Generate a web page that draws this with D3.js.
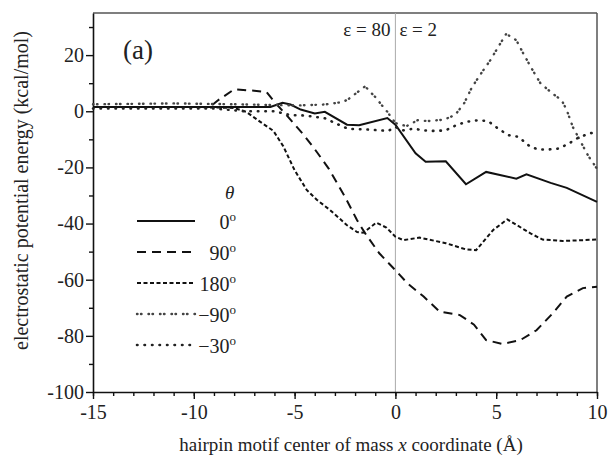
<!DOCTYPE html>
<html>
<head>
<meta charset="utf-8">
<script src="https://cdn.jsdelivr.net/npm/d3@7"></script>
<style>
  body { margin: 0; background: #fff; }
  svg text { font-family: "Liberation Serif", "Times New Roman", "DejaVu Serif", serif; }
</style>
</head>
<body>
<div id="chart"></div>
<script>
// data
const x0deg = [-15, -13, -11, -9, -7, -6.2, -5.6, -5.2, -4.7, -4.0, -3.5, -2.4, -1.8, -0.4, 0, 1.0, 1.5, 2.5, 3.5, 4.5, 6.0, 6.5, 7.7, 8.5, 10];
const y0deg = [1.5, 1.5, 1.5, 1.5, 1.5, 1.5, 3, 2.4, 0.6, -0.8, -0.2, -4.8, -5, -2.4, -4.8, -15, -18, -17.8, -26, -21.6, -24, -22.5, -25.5, -27.3, -32.3];

const x90deg = [-15, -12, -9.2, -8.8, -8, -7, -6.4, -6, -5.4, -4.6, -4, -3.3, -2.5, -1.9, -1.5, -0.8, 0, 0.6, 1.4, 2.2, 3.2, 3.9, 4.5, 5.3, 6.2, 7, 7.8, 8.5, 9.3, 10];
const y90deg = [1.5, 1.5, 1.5, 3.9, 7.8, 7.3, 6.9, 3.3, -1.4, -8, -13.5, -20.5, -30.5, -38.8, -43.5, -50.6, -56.6, -61.3, -66, -71.4, -72.6, -76, -81.5, -82.9, -81.5, -78, -72, -66, -63, -62.5];

const x180deg = [-15, -10, -8, -7.4, -6.7, -6.05, -5.56, -5.0, -4.4, -3.9, -3.24, -2.4, -1.9, -1.6, -0.95, -0.45, 0, 0.4, 1.2, 2.5, 3.5, 4.0, 4.85, 5.55, 6.7, 7.3, 8.3, 10];
const y180deg = [1.5, 1.5, 1.2, -0.2, -3.8, -7, -12.5, -21, -28, -31.5, -35.2, -40.6, -43, -43.3, -39.7, -41.4, -44.7, -45.9, -45, -47, -49.2, -49.5, -42.3, -38.5, -43.5, -45.7, -46.2, -45.7];

const xm90deg = [-15, -11, -8, -6, -4.7, -3.5, -2.6, -2.3, -1.5, -1.25, -1.0, -0.8, -0.6, -0.4, 0, 0.55, 1.1, 1.6, 2.4, 2.95, 3.4, 3.8, 4.3, 4.7, 5.1, 5.5, 6.0, 6.35, 6.76, 7.2, 7.8, 8.25, 8.5, 8.8, 9.15, 9.55, 10];
const ym90deg = [2.5, 2.8, 2.5, 2.2, 2.1, 2.4, 3.3, 4.5, 8.9, 6.9, 5.1, 3.3, 1.5, -0.2, -4.2, -5.3, -3.2, -3.5, -3, -1.4, 2.7, 8.6, 14, 18.1, 22.9, 27.6, 25.3, 20.5, 15.2, 9.9, 6.3, 3.9, 0.4, -5.6, -10.3, -15.7, -20.5];

const xm30deg = [-15, -9, -7.5, -6, -5.2, -4.5, -3.5, -2.6, -2.3, -1.4, -0.35, 0, 0.4, 0.9, 1.4, 1.9, 2.5, 3.0, 3.5, 4.1, 4.6, 5.1, 5.6, 6.1, 6.7, 7.1, 7.6, 8.1, 8.6, 9.0, 9.6, 10];
const ym30deg = [1, 1, 0, 0, -1.4, -1.5, -2.5, -5.5, -6.3, -6.5, -7, -5.6, -6.8, -6.2, -6.8, -7, -6.8, -5, -3.8, -3.2, -3.5, -6.2, -8.5, -9.1, -12.7, -13.6, -13.6, -13.3, -11.5, -9.7, -7.9, -7.5];

const legendLabels = ["0", "90", "180", "\u221290", "\u221230"];
const xTicks = [-15, -10, -5, 0, 5, 10];
const yTicks = [-100, -80, -60, -40, -20, 0, 20];

const series = [
  {x: x0deg, y: y0deg, dash: null, color: "#111", cap: "butt", sw: 2},
  {x: x90deg, y: y90deg, dash: "9,6", color: "#111", cap: "butt", sw: 2},
  {x: x180deg, y: y180deg, dash: "4,2.5", color: "#111", cap: "butt", sw: 2},
  {x: xm90deg, y: ym90deg, dash: "0.5,3.5,0.5,7", color: "#444", cap: "round", sw: 2.4},
  {x: xm30deg, y: ym30deg, dash: "0.5,7", color: "#222", cap: "round", sw: 2.6}
];

const width = 611, height = 460;
const margin = {top: 13, right: 14, bottom: 68, left: 93};
const w = width - margin.left - margin.right;
const h = height - margin.top - margin.bottom;

const svg = d3.select("#chart").append("svg")
  .attr("width", width)
  .attr("height", height);

const g = svg.append("g")
  .attr("transform", `translate(${margin.left}, ${margin.top})`);

const xScale = d3.scaleLinear().domain([-15, 10]).range([0, w]);
const yScale = d3.scaleLinear().domain([-100, 35]).range([h, 0]);

// frame: top and right
g.append("line").attr("x1", 0).attr("x2", w).attr("y1", 0).attr("y2", 0)
  .attr("stroke", "#555").attr("stroke-width", 1.5);
g.append("line").attr("x1", w).attr("x2", w).attr("y1", 0).attr("y2", h)
  .attr("stroke", "#555").attr("stroke-width", 1.5);

// epsilon boundary
g.append("line")
  .attr("x1", xScale(0)).attr("x2", xScale(0))
  .attr("y1", 0).attr("y2", h)
  .attr("stroke", "#aaa").attr("stroke-width", 1);

// minor ticks
g.append("g")
  .attr("transform", `translate(0, ${h})`)
  .call(d3.axisBottom(xScale).tickValues(d3.range(-15, 11, 1)).tickSize(4).tickFormat(""))
  .call(a => a.select(".domain").remove());
g.append("g")
  .call(d3.axisLeft(yScale).tickValues(d3.range(-90, 35, 20)).tickSize(4).tickFormat(""))
  .call(a => a.select(".domain").remove());

const xAxis = g.append("g")
  .attr("transform", `translate(0, ${h})`)
  .call(d3.axisBottom(xScale).tickValues(xTicks).tickSize(7).tickSizeOuter(0).tickPadding(6).tickFormat(d => String(d)));
const yAxis = g.append("g")
  .call(d3.axisLeft(yScale).tickValues(yTicks).tickSize(7).tickSizeOuter(0).tickPadding(2).tickFormat(d => String(d)));

[xAxis, yAxis].forEach(a => {
  a.attr("font-family", null);
  a.select(".domain").attr("stroke", "#111").attr("stroke-width", 1.6);
  a.selectAll("text").attr("font-size", 20).attr("fill", "#222");
});
g.selectAll(".tick line").attr("stroke", "#111").attr("stroke-width", 1.4);

// curves
const line = d3.line()
  .x(d => xScale(d[0]))
  .y(d => yScale(d[1]));

g.selectAll("path.curve")
  .data(series)
  .join("path")
  .attr("class", "curve")
  .attr("fill", "none")
  .attr("stroke", d => d.color)
  .attr("stroke-width", d => d.sw)
  .attr("stroke-linecap", d => d.cap)
  .attr("stroke-dasharray", d => d.dash)
  .attr("d", d => line(d.x.map((v, i) => [v, d.y[i]])));

// annotations
g.append("text")
  .attr("x", 30).attr("y", 46)
  .attr("font-size", 27).attr("fill", "#222")
  .text("(a)");

g.append("text")
  .attr("x", xScale(0) - 5).attr("y", 23)
  .attr("text-anchor", "end")
  .attr("font-size", 19).attr("fill", "#222")
  .text("\u03b5 = 80");
g.append("text")
  .attr("x", xScale(0) + 4).attr("y", 23)
  .attr("font-size", 19).attr("fill", "#222")
  .text("\u03b5 = 2");

// legend
const legend = g.append("g").attr("transform", "translate(44, 180)");
legend.append("text")
  .attr("x", 88).attr("y", 6)
  .attr("font-size", 19).attr("font-style", "italic").attr("fill", "#222")
  .text("\u03b8");

const rows = legend.selectAll("g.row")
  .data(series)
  .join("g")
  .attr("class", "row")
  .attr("transform", (d, i) => `translate(0, ${28 + i * 31})`);

rows.append("line")
  .attr("x1", 0).attr("x2", 58)
  .attr("stroke", d => d.color)
  .attr("stroke-width", d => d.sw)
  .attr("stroke-linecap", d => d.cap)
  .attr("stroke-dasharray", d => d.dash);

const labels = rows.append("text")
  .attr("x", 99).attr("y", 8)
  .attr("text-anchor", "end")
  .attr("font-size", 20).attr("fill", "#222");
labels.append("tspan").text((d, i) => legendLabels[i]);
labels.append("tspan")
  .attr("font-size", 13).attr("dy", -8)
  .text("o");

// axis titles
svg.append("text")
  .attr("x", margin.left + w / 2 + 6).attr("y", 451)
  .attr("text-anchor", "middle")
  .attr("font-size", 19).attr("fill", "#222")
  .call(t => {
    t.append("tspan").text("hairpin motif center of mass ");
    t.append("tspan").attr("font-style", "italic").text("x");
    t.append("tspan").text(" coordinate (\u00c5)");
  });

svg.append("text")
  .attr("transform", `translate(28, ${margin.top + h / 2 - 12}) rotate(-90)`)
  .attr("text-anchor", "middle")
  .attr("font-size", 20).attr("fill", "#222")
  .text("electrostatic potential energy (kcal/mol)");
</script>
</body>
</html>
